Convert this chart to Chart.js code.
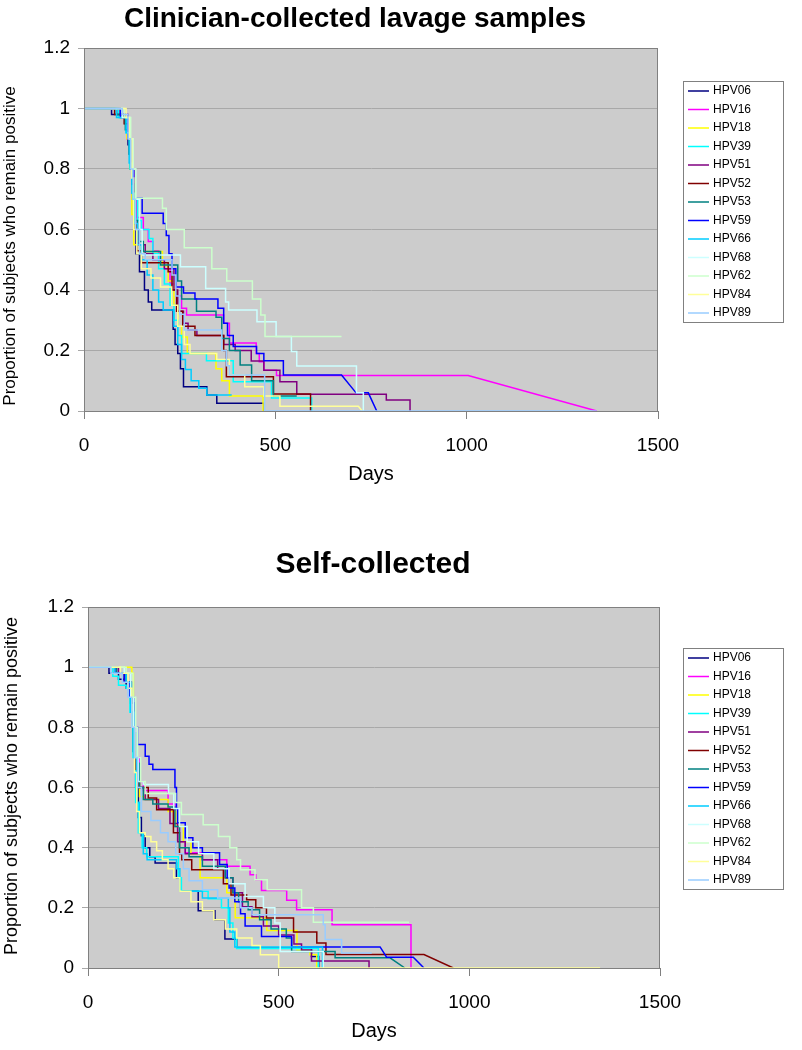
<!DOCTYPE html>
<html>
<head>
<meta charset="utf-8">
<script src="https://cdn.jsdelivr.net/npm/chart.js@4.4.1/dist/chart.umd.min.js"></script>
<style>
  body { margin: 0; background: #fff; }
  canvas { position: absolute; left: 0; }
</style>
</head>
<body>
<canvas id="clinChart" width="802" height="525" style="top:0"></canvas>
<canvas id="selfChart" width="802" height="525" style="top:525px"></canvas>
<script>
const types = ["HPV06", "HPV16", "HPV18", "HPV39", "HPV51", "HPV52", "HPV53", "HPV59", "HPV66", "HPV68", "HPV62", "HPV84", "HPV89"];
const colors = ["#000080", "#ff00ff", "#ffff00", "#00ffff", "#800080", "#800000", "#008080", "#0000ff", "#00ccff", "#ccffff", "#ccffcc", "#ffff99", "#99ccff"];
const xTickVals = [0, 500, 1000, 1500];
const xTickLabels = ["0", "500", "1000", "1500"];
const yTickVals = [0, 0.2, 0.4, 0.6, 0.8, 1, 1.2];
const yTickLabels = ["0", "0.2", "0.4", "0.6", "0.8", "1", "1.2"];

// [days, proportion] at each event; a third value 1 = joined straight, not stepped
const clin06 = [[0,1],[72,0.98],[108,0.95],[115,0.88],[120,0.8],[125,0.7],[130,0.6],[136,0.52],[145,0.46],[158,0.4],[168,0.36],[177,0.334],[233,0.27],[238,0.22],[245,0.19],[252,0.14],[260,0.08],[321,0.053],[347,0.026],[470,0]];
const clin16 = [[0,1],[90,0.98],[112,0.9],[122,0.8],[130,0.7],[138,0.64],[155,0.6],[168,0.56],[180,0.53],[195,0.5],[210,0.47],[225,0.42],[240,0.38],[255,0.34],[268,0.317],[365,0.29],[380,0.225],[450,0.19],[458,0.163],[470,0.135],[503,0.117],[1004,0.117],[1340,0,1]];
const clin18 = [[0,1],[95,0.97],[112,0.9],[120,0.8],[125,0.65],[130,0.55],[145,0.527],[205,0.48],[220,0.43],[235,0.35],[245,0.28],[255,0.245],[270,0.19],[345,0.14],[360,0.1],[380,0.05],[468,0]];
const clin39 = [[0,1],[90,0.97],[110,0.92],[120,0.8],[128,0.7],[140,0.63],[150,0.6],[170,0.57],[180,0.52],[195,0.47],[210,0.42],[225,0.35],[235,0.3],[245,0.25],[255,0.19],[320,0.166],[390,0.097],[490,0.043],[595,0]];
const clin51 = [[0,1],[95,0.98],[115,0.9],[122,0.8],[130,0.7],[135,0.6],[142,0.55],[160,0.52],[180,0.5],[210,0.47],[235,0.4],[245,0.33],[260,0.29],[272,0.268],[295,0.25],[365,0.22],[395,0.2],[437,0.165],[470,0.135],[512,0.097],[556,0.055],[790,0.036],[852,0]];
const clin52 = [[0,1],[80,0.98],[105,0.95],[118,0.85],[125,0.75],[130,0.62],[138,0.53],[150,0.49],[220,0.46],[230,0.4],[242,0.33],[258,0.28],[290,0.25],[365,0.2],[372,0.113],[495,0.056],[592,0]];
const clin53 = [[0,1],[85,0.98],[108,0.93],[118,0.85],[125,0.75],[132,0.63],[140,0.56],[155,0.527],[200,0.483],[245,0.43],[255,0.37],[294,0.33],[345,0.31],[360,0.24],[380,0.2],[408,0.152],[438,0.1],[495,0.05],[556,0.05]];
const clin59 = [[0,1],[95,0.97],[115,0.9],[125,0.8],[130,0.703],[152,0.654],[207,0.62],[215,0.58],[222,0.52],[230,0.47],[240,0.41],[260,0.39],[290,0.37],[350,0.34],[365,0.29],[375,0.25],[390,0.213],[451,0.19],[470,0.166],[521,0.119],[673,0.119],[711,0.06,1],[743,0.06],[765,0,1]];
const clin66 = [[0,1],[85,0.97],[110,0.92],[118,0.82],[125,0.72],[132,0.62],[140,0.55],[150,0.5],[165,0.45],[180,0.4],[195,0.36],[207,0.334],[235,0.28],[245,0.22],[255,0.17],[265,0.137],[280,0.1],[300,0.075],[321,0.053],[386,0.053]];
const clin68 = [[0,1],[100,0.97],[120,0.9],[128,0.8],[135,0.7],[145,0.6],[152,0.516],[252,0.477],[318,0.405],[370,0.36],[378,0.334],[452,0.295],[502,0.246],[542,0.197],[556,0.149],[712,0.06],[730,0]];
const clin62 = [[0,1],[105,0.97],[122,0.9],[128,0.8],[135,0.703],[205,0.67],[215,0.6],[262,0.54],[334,0.47],[373,0.43],[440,0.37],[462,0.317],[473,0.246],[673,0.246]];
const clin84 = [[0,1],[110,0.97],[118,0.9],[125,0.77],[130,0.6],[138,0.52],[150,0.47],[175,0.44],[200,0.41],[229,0.35],[245,0.28],[262,0.22],[277,0.19],[347,0.17],[380,0.12],[420,0.08],[470,0.05],[512,0.016],[717,0.016],[727,0,1]];
const clin89 = [[0,1],[100,0.98],[115,0.9],[122,0.8],[128,0.7],[135,0.6],[145,0.52],[160,0.5],[230,0.45],[240,0.38],[250,0.32],[262,0.268],[360,0.2],[372,0.15],[380,0.119],[472,0],[1340,0]];

const self06 = [[0,1],[55,0.98],[80,0.96],[100,0.93],[112,0.85],[118,0.72],[125,0.6],[132,0.5],[140,0.44],[150,0.4],[162,0.37],[176,0.349],[232,0.3],[241,0.255],[289,0.19],[333,0.16],[359,0.096],[390,0.066],[586,0.038],[605,0]];
const self16 = [[0,1],[75,0.98],[100,0.95],[115,0.88],[122,0.8],[128,0.7],[135,0.62],[145,0.59],[210,0.545],[228,0.47],[240,0.42],[255,0.383],[300,0.36],[364,0.338],[425,0.31],[440,0.293],[455,0.258],[521,0.225],[547,0.194],[640,0.144],[847,0]];
const self18 = [[0,1],[115,0.98],[119,0.85],[123,0.7],[128,0.62],[135,0.57],[150,0.56],[210,0.52],[230,0.47],[250,0.42],[270,0.38],[294,0.3],[364,0.25],[386,0.167],[469,0.125],[548,0.06],[582,0.044],[600,0]];
const self39 = [[0,1],[65,0.97],[80,0.94],[100,0.93],[110,0.85],[118,0.7],[125,0.55],[132,0.45],[142,0.4],[154,0.37],[237,0.3],[245,0.255],[315,0.23],[350,0.2],[368,0.15],[380,0.1],[390,0.065],[604,0]];
const self51 = [[0,1],[80,0.98],[100,0.95],[115,0.88],[122,0.78],[128,0.68],[135,0.6],[150,0.56],[185,0.53],[215,0.48],[235,0.42],[255,0.38],[300,0.36],[340,0.33],[360,0.3],[380,0.25],[405,0.204],[430,0.17],[460,0.14],[500,0.11],[540,0.08],[560,0.06],[586,0.023],[737,0]];
const self52 = [[0,1],[70,0.98],[95,0.95],[112,0.88],[120,0.78],[126,0.66],[133,0.6],[158,0.565],[180,0.526],[224,0.45],[240,0.38],[246,0.36],[272,0.327],[355,0.28],[375,0.243],[416,0.227],[440,0.2],[468,0.166],[539,0.12],[600,0.083],[624,0.045],[881,0.045],[958,0,1]];
const self53 = [[0,1],[75,0.98],[100,0.95],[115,0.88],[122,0.78],[128,0.68],[135,0.6],[145,0.56],[170,0.545],[210,0.535],[228,0.47],[240,0.4],[265,0.37],[300,0.338],[360,0.3],[380,0.25],[395,0.22],[420,0.194],[450,0.16],[480,0.13],[520,0.1],[534,0.055],[648,0.034],[792,0.034],[831,0,1]];
const self59 = [[0,1],[70,0.98],[95,0.95],[110,0.9],[120,0.8],[130,0.743],[150,0.704],[160,0.677],[170,0.66],[228,0.6],[232,0.53],[235,0.483],[255,0.433],[275,0.4],[300,0.383],[345,0.344],[365,0.3],[370,0.266],[385,0.22],[400,0.18],[412,0.14],[455,0.105],[534,0.07],[766,0.07],[783,0.036,1],[853,0.036],[881,0,1]];
const self66 = [[0,1],[70,0.98],[100,0.95],[112,0.85],[120,0.7],[128,0.55],[135,0.45],[145,0.38],[155,0.36],[232,0.33],[241,0.255],[300,0.233],[368,0.2],[372,0.12],[385,0.07],[610,0.07],[615,0]];
const self68 = [[0,1],[95,0.98],[112,0.9],[120,0.8],[126,0.7],[132,0.62],[145,0.61],[211,0.58],[225,0.53],[240,0.47],[260,0.42],[290,0.38],[330,0.33],[370,0.28],[412,0.238],[460,0.2],[490,0.15],[504,0.055],[617,0]];
const self62 = [[0,1],[100,0.98],[118,0.9],[125,0.8],[130,0.7],[138,0.62],[150,0.58],[230,0.55],[245,0.51],[302,0.476],[342,0.437],[372,0.4],[390,0.36],[400,0.327],[438,0.293],[470,0.26],[560,0.2],[591,0.152],[842,0.152]];
const self84 = [[0,1],[85,0.98],[105,0.93],[115,0.8],[122,0.65],[128,0.52],[135,0.45],[150,0.437],[165,0.42],[180,0.39],[195,0.36],[210,0.33],[225,0.3],[241,0.255],[270,0.22],[300,0.19],[330,0.16],[360,0.13],[390,0.1],[430,0.075],[452,0.044],[500,0],[1343,0]];
const self89 = [[0,1],[60,0.98],[90,0.95],[105,0.9],[115,0.8],[122,0.7],[130,0.6],[140,0.52],[165,0.49],[190,0.45],[210,0.42],[230,0.38],[250,0.33],[265,0.29],[300,0.26],[340,0.233],[400,0.2],[430,0.177],[617,0.144],[622,0.095],[665,0.05],[744,0.05]];

const clinSeries = [clin06, clin16, clin18, clin39, clin51, clin52, clin53, clin59, clin66, clin68, clin62, clin84, clin89];
const selfSeries = [self06, self16, self18, self39, self51, self52, self53, self59, self66, self68, self62, self84, self89];

Chart.defaults.font.family = "'Liberation Sans', Arial, sans-serif";
Chart.defaults.color = "#000";

// turn event list into a step line (flat, then drop)
function toSteps(events) {
  const pts = [];
  events.forEach((e, i) => {
    if (i > 0 && !e[2]) pts.push({ x: e[0], y: pts[pts.length - 1].y });
    pts.push({ x: e[0], y: e[1] });
  });
  return pts;
}

const plotBg = {
  id: "plotBg",
  beforeDraw(chart) {
    const { ctx, chartArea: a } = chart;
    ctx.save();
    ctx.fillStyle = "#cccccc";
    ctx.fillRect(a.left, a.top, a.right - a.left, a.bottom - a.top);
    ctx.restore();
  },
  afterDraw(chart) {
    const { ctx, chartArea: a } = chart;
    const o = chart.options.plugins.plotBg;
    ctx.save();
    ctx.strokeStyle = "#808080";
    ctx.lineWidth = 1;
    ctx.strokeRect(a.left + 0.5, a.top + 0.5, a.right - a.left - 1, a.bottom - a.top);

    // title
    ctx.fillStyle = "#000";
    ctx.textAlign = "center";
    ctx.textBaseline = "middle";
    ctx.font = "bold " + o.titleSize + "px 'Liberation Sans', Arial, sans-serif";
    ctx.fillText(o.title, o.titleX, o.titleY);

    // y axis title
    ctx.save();
    ctx.translate(o.yTitleX, o.yTitleY);
    ctx.rotate(-Math.PI / 2);
    ctx.font = o.yTitleSize + "px 'Liberation Sans', Arial, sans-serif";
    ctx.fillText("Proportion of subjects who remain positive", 0, 0);
    ctx.restore();

    // legend box
    const lx = o.legendX, ly = o.legendY;
    ctx.fillStyle = "#fff";
    ctx.fillRect(lx, ly, 100, 241);
    ctx.strokeStyle = "#808080";
    ctx.strokeRect(lx + 0.5, ly + 0.5, 100, 241);
    ctx.font = "12px 'Liberation Sans', Arial, sans-serif";
    ctx.textAlign = "left";
    chart.data.datasets.forEach((ds, i) => {
      const y = ly + 10 + i * 18.5;
      ctx.strokeStyle = ds.borderColor;
      ctx.lineWidth = 1.5;
      ctx.beginPath();
      ctx.moveTo(lx + 5, y);
      ctx.lineTo(lx + 26, y);
      ctx.stroke();
      ctx.fillStyle = "#000";
      ctx.fillText(ds.label, lx + 30, y);
    });
    ctx.restore();
  }
};

function makeChart(id, series, o) {
  return new Chart(document.getElementById(id), {
    type: "scatter",
    data: {
      datasets: series.map((ev, i) => ({
        label: types[i],
        data: toSteps(ev),
        showLine: true,
        borderColor: colors[i],
        backgroundColor: colors[i],
        borderWidth: 1.5,
        pointRadius: 0,
        order: series.length - i
      }))
    },
    options: {
      responsive: false,
      animation: false,
      events: [],
      layout: { padding: { left: 0, top: o.top, right: 802 - o.right, bottom: 525 - o.bottom - 75 } },
      scales: {
        x: {
          type: "linear",
          min: 0,
          max: 1500,
          afterBuildTicks: s => { s.ticks = xTickVals.map(v => ({ value: v })); },
          afterFit: s => { s.height = 75; },
          ticks: { callback: (v, i) => xTickLabels[i], font: { size: 19 }, padding: 15, maxRotation: 0 },
          grid: { drawOnChartArea: false, tickLength: 8, color: "#808080" },
          border: { color: "#808080" },
          title: { display: true, text: "Days", font: { size: 20 }, padding: 0 }
        },
        y: {
          min: 0,
          max: 1.2,
          afterBuildTicks: s => { s.ticks = yTickVals.map(v => ({ value: v })); },
          afterFit: s => { s.width = o.left; },
          ticks: { callback: (v, i) => yTickLabels[i], font: { size: 19 }, padding: 8 },
          grid: { color: "#a8a8a8", tickLength: 6 },
          border: { color: "#808080" }
        }
      },
      plugins: {
        legend: { display: false },
        tooltip: { enabled: false },
        plotBg: o
      }
    },
    plugins: [plotBg]
  });
}

makeChart("clinChart", clinSeries, {
  left: 84, right: 658, top: 48, bottom: 411,
  title: "Clinician-collected lavage samples", titleSize: 28, titleX: 355, titleY: 19,
  yTitleSize: 17, yTitleX: 10, yTitleY: 246, legendX: 683, legendY: 81
});
makeChart("selfChart", selfSeries, {
  left: 88, right: 660, top: 82, bottom: 443,
  title: "Self-collected", titleSize: 30, titleX: 373, titleY: 40,
  yTitleSize: 18, yTitleX: 12, yTitleY: 261, legendX: 683, legendY: 123
});
</script>
</body>
</html>
